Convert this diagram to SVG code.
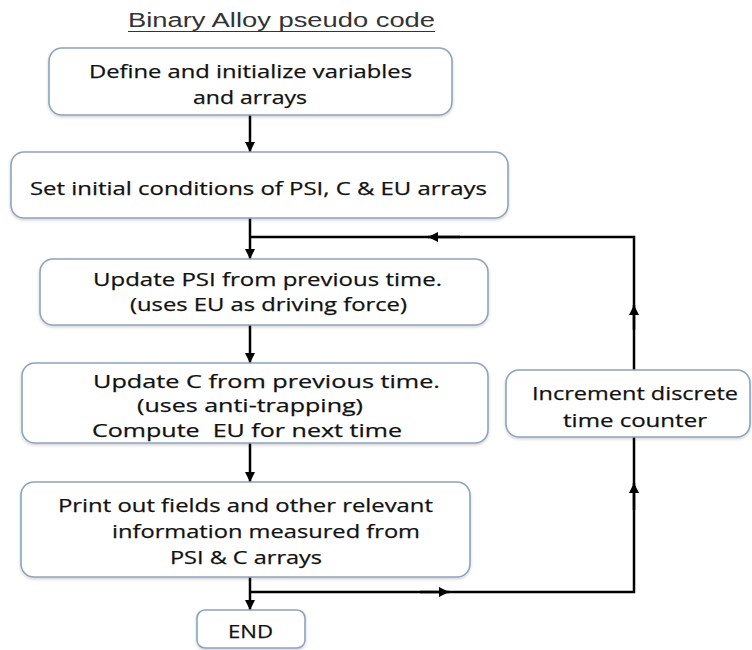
<svg xmlns="http://www.w3.org/2000/svg" width="752" height="650" viewBox="0 0 752 650">
<defs>
<marker id="ah" viewBox="0 0 10 10" refX="10" refY="5" markerWidth="4" markerHeight="4" orient="auto" markerUnits="strokeWidth">
<path d="M0,0 L10,5 L0,10 z" fill="#000"/>
</marker>
<filter id="sh" x="-5%" y="-10%" width="110%" height="130%">
<feDropShadow dx="0" dy="1.5" stdDeviation="1.5" flood-color="#000" flood-opacity="0.18"/>
</filter>
</defs>
<style>
.box{fill:#fff;stroke:#8ea3bd;stroke-width:1.6;filter:url(#sh)}
.t{font-family:"Open Sans","Noto Sans","DejaVu Sans",sans-serif;font-size:19px;fill:#111;stroke:#111;stroke-width:0.25}
.title{font-family:"Liberation Sans",Arial,sans-serif;font-size:20px;fill:#333}
.ln{fill:none;stroke:#000;stroke-width:2.5}
.ar{fill:none;stroke:#000;stroke-width:2.5;marker-end:url(#ah)}
</style>
<rect width="752" height="650" fill="#fff"/>
<g id="title">
<text class="title" x="128" y="27" textLength="307" lengthAdjust="spacingAndGlyphs">Binary Alloy pseudo code</text>
<line x1="128" y1="31.5" x2="435" y2="31.5" stroke="#333" stroke-width="1.2"/>
</g>
<g id="connectors">
<path class="ar" d="M250,115 L250,152"/>
<path class="ar" d="M250,218 L250,259"/>
<path class="ln" d="M634,370 L634,237 L250,237"/>
<path class="ar" d="M634,330 L634,305"/>
<path class="ar" d="M460,237 L428,237"/>
<path class="ar" d="M250,325 L250,363"/>
<path class="ar" d="M250,443 L250,482"/>
<path class="ar" d="M250,577 L250,610"/>
<path class="ln" d="M250,592 L634,592 L634,437"/>
<path class="ar" d="M420,592 L449,592"/>
<path class="ar" d="M634,510 L634,483"/>
</g>
<g id="n1">
<rect class="box" x="49" y="48" width="403" height="67" rx="13"/>
<text class="t" x="89" y="78" textLength="323" lengthAdjust="spacingAndGlyphs">Define and initialize variables</text>
<text class="t" x="193" y="104" textLength="114" lengthAdjust="spacingAndGlyphs">and arrays</text>
</g>
<g id="n2">
<rect class="box" x="11" y="152" width="497" height="66" rx="13"/>
<text class="t" x="30" y="195" textLength="457" lengthAdjust="spacingAndGlyphs">Set initial conditions of PSI, C &amp; EU arrays</text>
</g>
<g id="n3">
<rect class="box" x="40" y="259" width="448" height="66" rx="13"/>
<text class="t" x="93" y="286" textLength="349" lengthAdjust="spacingAndGlyphs">Update PSI from previous time.</text>
<text class="t" x="130" y="311" textLength="277" lengthAdjust="spacingAndGlyphs">(uses EU as driving force)</text>
</g>
<g id="n4">
<rect class="box" x="22" y="363" width="466" height="80" rx="13"/>
<text class="t" x="93" y="388" textLength="347" lengthAdjust="spacingAndGlyphs">Update C from previous time.</text>
<text class="t" x="137" y="412" textLength="226" lengthAdjust="spacingAndGlyphs">(uses anti-trapping)</text>
<text class="t" x="92" y="437" textLength="310" lengthAdjust="spacingAndGlyphs" xml:space="preserve" style="white-space:pre">Compute  EU for next time</text>
</g>
<g id="n5">
<rect class="box" x="506" y="370" width="244" height="67" rx="13"/>
<text class="t" x="532" y="400" textLength="206" lengthAdjust="spacingAndGlyphs">Increment discrete</text>
<text class="t" x="563" y="427" textLength="144" lengthAdjust="spacingAndGlyphs">time counter</text>
</g>
<g id="n6">
<rect class="box" x="21" y="482" width="449" height="95" rx="13"/>
<text class="t" x="58" y="512" textLength="375" lengthAdjust="spacingAndGlyphs">Print out fields and other relevant</text>
<text class="t" x="112" y="538" textLength="308" lengthAdjust="spacingAndGlyphs">information measured from</text>
<text class="t" x="170" y="564" textLength="152" lengthAdjust="spacingAndGlyphs">PSI &amp; C arrays</text>
</g>
<g id="n7">
<rect class="box" x="197" y="610" width="108" height="38" rx="8"/>
<text class="t" x="228" y="638" textLength="45" lengthAdjust="spacingAndGlyphs">END</text>
</g>
</svg>
